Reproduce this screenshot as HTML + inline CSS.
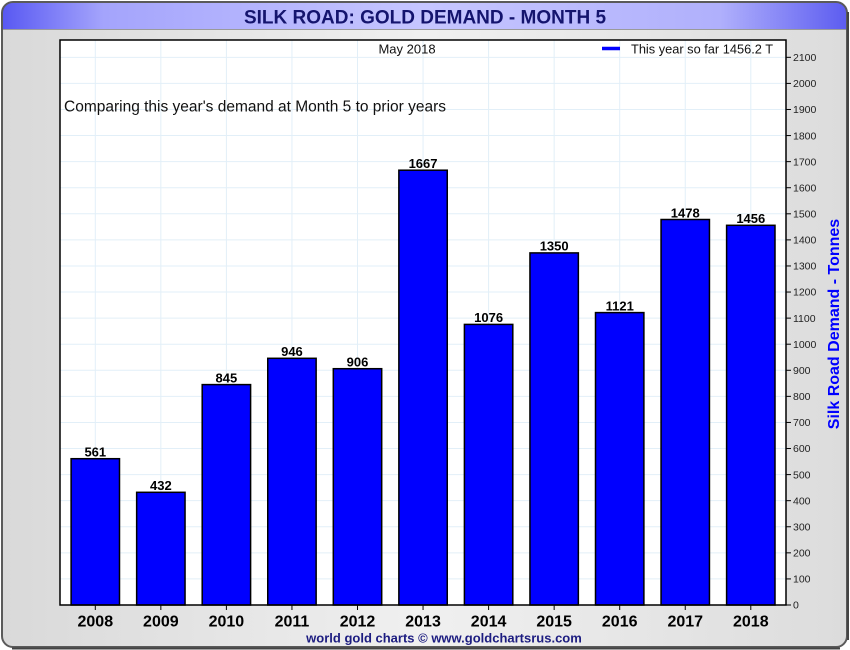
<!DOCTYPE html>
<html><head><meta charset="utf-8"><style>
html,body{margin:0;padding:0;width:850px;height:650px;overflow:hidden;background:#fff;}
svg{display:block;font-family:"Liberation Sans",Arial,sans-serif;}
</style></head><body>
<svg width="850" height="650" viewBox="0 0 850 650" xmlns="http://www.w3.org/2000/svg">
<defs>
<linearGradient id="bg" x1="0" y1="0" x2="1" y2="0">
<stop offset="0" stop-color="#d9d9d9"/><stop offset="0.5" stop-color="#f0f0f0"/><stop offset="1" stop-color="#dcdcdc"/>
</linearGradient>
<linearGradient id="tb" x1="0" y1="0" x2="1" y2="0">
<stop offset="0" stop-color="#5858f2"/><stop offset="0.12" stop-color="#a4a4fc"/><stop offset="0.5" stop-color="#c6c6ff"/><stop offset="0.85" stop-color="#b0b0fc"/><stop offset="1" stop-color="#5c5cf0"/>
</linearGradient>
<clipPath id="pc"><rect x="2" y="2" width="845" height="645" rx="11" ry="11"/></clipPath>
</defs>
<rect x="0" y="0" width="850" height="650" fill="#ffffff"/>
<g clip-path="url(#pc)">
<rect x="2" y="2" width="845" height="645" fill="url(#bg)"/>
<rect x="2" y="2" width="845" height="27" fill="url(#tb)"/>
<line x1="2" y1="29.5" x2="847" y2="29.5" stroke="#9a9a9a" stroke-width="1"/>
</g>
<rect x="2" y="2" width="845" height="645" rx="11" ry="11" fill="none" stroke="#5a5a5a" stroke-width="2"/>
<line x1="848" y1="12" x2="848" y2="640" stroke="#444" stroke-width="2"/>
<line x1="12" y1="648.5" x2="840" y2="648.5" stroke="#444" stroke-width="2"/>

<text x="425" y="23.5" text-anchor="middle" font-size="19" font-weight="bold" fill="#14146e">SILK ROAD: GOLD DEMAND - MONTH 5</text>

<!-- plot area -->
<rect x="60" y="40" width="726" height="565" fill="#ffffff"/>
<g stroke="#e2eff8" stroke-width="1">
<line x1="60" y1="578.92" x2="786" y2="578.92"/>
<line x1="60" y1="552.84" x2="786" y2="552.84"/>
<line x1="60" y1="526.76" x2="786" y2="526.76"/>
<line x1="60" y1="500.68" x2="786" y2="500.68"/>
<line x1="60" y1="474.6" x2="786" y2="474.6"/>
<line x1="60" y1="448.52" x2="786" y2="448.52"/>
<line x1="60" y1="422.44" x2="786" y2="422.44"/>
<line x1="60" y1="396.36" x2="786" y2="396.36"/>
<line x1="60" y1="370.28" x2="786" y2="370.28"/>
<line x1="60" y1="344.2" x2="786" y2="344.2"/>
<line x1="60" y1="318.12" x2="786" y2="318.12"/>
<line x1="60" y1="292.04" x2="786" y2="292.04"/>
<line x1="60" y1="265.96" x2="786" y2="265.96"/>
<line x1="60" y1="239.88" x2="786" y2="239.88"/>
<line x1="60" y1="213.8" x2="786" y2="213.8"/>
<line x1="60" y1="187.72" x2="786" y2="187.72"/>
<line x1="60" y1="161.64" x2="786" y2="161.64"/>
<line x1="60" y1="135.56" x2="786" y2="135.56"/>
<line x1="60" y1="109.48" x2="786" y2="109.48"/>
<line x1="60" y1="83.4" x2="786" y2="83.4"/>
<line x1="60" y1="57.32" x2="786" y2="57.32"/>
<line x1="95.3" y1="40" x2="95.3" y2="605"/>
<line x1="160.85" y1="40" x2="160.85" y2="605"/>
<line x1="226.4" y1="40" x2="226.4" y2="605"/>
<line x1="291.95" y1="40" x2="291.95" y2="605"/>
<line x1="357.5" y1="40" x2="357.5" y2="605"/>
<line x1="423.05" y1="40" x2="423.05" y2="605"/>
<line x1="488.6" y1="40" x2="488.6" y2="605"/>
<line x1="554.15" y1="40" x2="554.15" y2="605"/>
<line x1="619.7" y1="40" x2="619.7" y2="605"/>
<line x1="685.25" y1="40" x2="685.25" y2="605"/>
<line x1="750.8" y1="40" x2="750.8" y2="605"/>
</g>

<text x="407" y="53.5" text-anchor="middle" font-size="13" fill="#111">May 2018</text>
<line x1="602" y1="48.5" x2="620" y2="48.5" stroke="#0000ff" stroke-width="3.5"/>
<text x="631" y="53.5" font-size="12.8" fill="#111">This year so far 1456.2 T</text>
<text x="64" y="111.5" font-size="15.5" fill="#111">Comparing this year's demand at Month 5 to prior years</text>

<!-- bars -->
<g fill="#0000ff" stroke="#000" stroke-width="1.5">
<rect x="71.1" y="458.7" width="48.4" height="146.3"/>
<rect x="136.65" y="492.3" width="48.4" height="112.7"/>
<rect x="202.2" y="384.6" width="48.4" height="220.4"/>
<rect x="267.75" y="358.3" width="48.4" height="246.7"/>
<rect x="333.3" y="368.7" width="48.4" height="236.3"/>
<rect x="398.85" y="170.2" width="48.4" height="434.8"/>
<rect x="464.4" y="324.4" width="48.4" height="280.6"/>
<rect x="529.95" y="252.9" width="48.4" height="352.1"/>
<rect x="595.5" y="312.6" width="48.4" height="292.4"/>
<rect x="661.05" y="219.5" width="48.4" height="385.5"/>
<rect x="726.6" y="225.3" width="48.4" height="379.7"/>
</g>
<g font-size="13" font-weight="bold" fill="#000" text-anchor="middle">
<text x="95.3" y="456.5">561</text>
<text x="160.85" y="490.1">432</text>
<text x="226.4" y="382.4">845</text>
<text x="291.95" y="356.1">946</text>
<text x="357.5" y="366.5">906</text>
<text x="423.05" y="168">1667</text>
<text x="488.6" y="322.2">1076</text>
<text x="554.15" y="250.7">1350</text>
<text x="619.7" y="310.4">1121</text>
<text x="685.25" y="217.3">1478</text>
<text x="750.8" y="223.1">1456</text>
</g>

<rect x="60" y="40" width="726" height="565" fill="none" stroke="#000" stroke-width="1.5"/>

<!-- y ticks -->
<g stroke="#000" stroke-width="1">
<line x1="786" y1="605" x2="791" y2="605"/>
<line x1="786" y1="578.92" x2="791" y2="578.92"/>
<line x1="786" y1="552.84" x2="791" y2="552.84"/>
<line x1="786" y1="526.76" x2="791" y2="526.76"/>
<line x1="786" y1="500.68" x2="791" y2="500.68"/>
<line x1="786" y1="474.6" x2="791" y2="474.6"/>
<line x1="786" y1="448.52" x2="791" y2="448.52"/>
<line x1="786" y1="422.44" x2="791" y2="422.44"/>
<line x1="786" y1="396.36" x2="791" y2="396.36"/>
<line x1="786" y1="370.28" x2="791" y2="370.28"/>
<line x1="786" y1="344.2" x2="791" y2="344.2"/>
<line x1="786" y1="318.12" x2="791" y2="318.12"/>
<line x1="786" y1="292.04" x2="791" y2="292.04"/>
<line x1="786" y1="265.96" x2="791" y2="265.96"/>
<line x1="786" y1="239.88" x2="791" y2="239.88"/>
<line x1="786" y1="213.8" x2="791" y2="213.8"/>
<line x1="786" y1="187.72" x2="791" y2="187.72"/>
<line x1="786" y1="161.64" x2="791" y2="161.64"/>
<line x1="786" y1="135.56" x2="791" y2="135.56"/>
<line x1="786" y1="109.48" x2="791" y2="109.48"/>
<line x1="786" y1="83.4" x2="791" y2="83.4"/>
<line x1="786" y1="57.32" x2="791" y2="57.32"/>
<line x1="95.3" y1="605" x2="95.3" y2="610"/>
<line x1="160.85" y1="605" x2="160.85" y2="610"/>
<line x1="226.4" y1="605" x2="226.4" y2="610"/>
<line x1="291.95" y1="605" x2="291.95" y2="610"/>
<line x1="357.5" y1="605" x2="357.5" y2="610"/>
<line x1="423.05" y1="605" x2="423.05" y2="610"/>
<line x1="488.6" y1="605" x2="488.6" y2="610"/>
<line x1="554.15" y1="605" x2="554.15" y2="610"/>
<line x1="619.7" y1="605" x2="619.7" y2="610"/>
<line x1="685.25" y1="605" x2="685.25" y2="610"/>
<line x1="750.8" y1="605" x2="750.8" y2="610"/>
</g>
<g font-size="10.5" fill="#222">
<text x="793" y="608.7">0</text>
<text x="793" y="582.6">100</text>
<text x="793" y="556.5">200</text>
<text x="793" y="530.5">300</text>
<text x="793" y="504.4">400</text>
<text x="793" y="478.3">500</text>
<text x="793" y="452.2">600</text>
<text x="793" y="426.1">700</text>
<text x="793" y="400.1">800</text>
<text x="793" y="374">900</text>
<text x="793" y="347.9">1000</text>
<text x="793" y="321.8">1100</text>
<text x="793" y="295.7">1200</text>
<text x="793" y="269.7">1300</text>
<text x="793" y="243.6">1400</text>
<text x="793" y="217.5">1500</text>
<text x="793" y="191.4">1600</text>
<text x="793" y="165.3">1700</text>
<text x="793" y="139.3">1800</text>
<text x="793" y="113.2">1900</text>
<text x="793" y="87.1">2000</text>
<text x="793" y="61">2100</text>
</g>
<text transform="translate(839,324) rotate(-90)" text-anchor="middle" font-size="16" font-weight="bold" fill="#0000ff">Silk Road Demand - Tonnes</text>

<g font-size="16" font-weight="bold" fill="#000" text-anchor="middle">
<text x="95.3" y="626.7">2008</text>
<text x="160.85" y="626.7">2009</text>
<text x="226.4" y="626.7">2010</text>
<text x="291.95" y="626.7">2011</text>
<text x="357.5" y="626.7">2012</text>
<text x="423.05" y="626.7">2013</text>
<text x="488.6" y="626.7">2014</text>
<text x="554.15" y="626.7">2015</text>
<text x="619.7" y="626.7">2016</text>
<text x="685.25" y="626.7">2017</text>
<text x="750.8" y="626.7">2018</text>
</g>
<text x="444" y="642.5" text-anchor="middle" font-size="13" font-weight="bold" fill="#1c1c80">world gold charts © www.goldchartsrus.com</text>
</svg>
</body></html>
